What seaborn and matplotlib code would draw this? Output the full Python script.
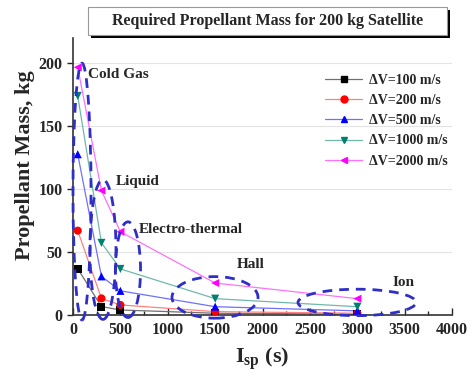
import numpy as np
import pandas as pd
import seaborn as sns
import matplotlib.pyplot as plt
from matplotlib.patches import Ellipse, Rectangle
from matplotlib.lines import Line2D

# data
isp = [50, 300, 500, 1500, 3000]
mass_dv100 = [36.8, 6.7, 4.0, 1.4, 0.7]
mass_dv200 = [67.0, 13.2, 8.0, 2.7, 1.4]
mass_dv500 = [127.7, 30.7, 19.2, 6.6, 3.3]
mass_dv1000 = [174.0, 57.3, 36.6, 13.0, 6.6]
mass_dv2000 = [196.7, 98.8, 66.1, 25.4, 13.0]

series_labels = ["\u0394V=100 m/s", "\u0394V=200 m/s", "\u0394V=500 m/s",
                 "\u0394V=1000 m/s", "\u0394V=2000 m/s"]
series_values = [mass_dv100, mass_dv200, mass_dv500, mass_dv1000, mass_dv2000]

# thruster groups: label, label position, ellipse (center x, center y, width, height)
groups = ["Cold Gas", "Liquid", "Electro-thermal", "Hall", "Ion"]
group_label_xy = [(158, 191), (454, 106), (696, 68), (1730, 40), (3375, 26)]
group_ellipse = [(95, 98, 190, 204), (316, 52, 275, 111), (580, 36, 265, 76),
                 (1498, 14, 907, 33), (2996, 10, 1245, 21)]

rows = []
for lab, vals in zip(series_labels, series_values):
    for x, y in zip(isp, vals):
        rows.append({"Isp": x, "mass": y, "series": lab})
df = pd.DataFrame(rows)

sns.set_style("white")
plt.rcParams["font.family"] = ["Liberation Serif", "DejaVu Serif"]
plt.rcParams["font.weight"] = "bold"
plt.rcParams["mathtext.fontset"] = "custom"
plt.rcParams["mathtext.rm"] = "Liberation Serif:bold"
plt.rcParams["mathtext.bf"] = "Liberation Serif:bold"

marker_colors = ["#000000", "#ff0000", "#0000ff", "#008070", "#ff00ff"]
line_colors = ["#707070", "#ff8080", "#7070ff", "#70b8ac", "#ff70ff"]
markers = ["s", "o", "^", "v", "<"]

fig = plt.figure(figsize=(4.74, 3.8), dpi=100)
ax = fig.add_axes([0.154, 0.171, 0.800, 0.729])

for y in [50, 100, 150, 200]:
    ax.axhline(y, color="#e3e3e3", lw=0.8, zorder=0)

sns.lineplot(data=df, x="Isp", y="mass", hue="series", hue_order=series_labels,
             palette=line_colors, lw=0.9, legend=False, ax=ax, zorder=2)
sns.scatterplot(data=df, x="Isp", y="mass", hue="series", hue_order=series_labels,
                palette=marker_colors, style="series", style_order=series_labels,
                markers=markers, s=34, linewidth=0, legend=False, ax=ax, zorder=3)

for (cx, cy, w, h) in group_ellipse:
    ax.add_patch(Ellipse((cx, cy), w, h, fill=False, ec="#2e2ec8", lw=2.0,
                         ls=(0, (3.5, 2.5)), zorder=4, clip_on=False))

for name, (tx, ty) in zip(groups, group_label_xy):
    ax.text(tx, ty, name, fontsize=11, fontweight="bold", ha="left", va="center")

ax.set_xlim(0, 4000)
ax.set_ylim(0, 220)
ax.set_xticks(np.arange(0, 4001, 500))
ax.set_xticks(np.arange(250, 4000, 500), minor=True)
ax.set_yticks([0, 50, 100, 150, 200])
ax.tick_params(axis="x", which="both", direction="in", length=5, width=1, pad=5,
               labelsize=11.5, bottom=True)
ax.tick_params(axis="x", which="minor", length=3)
ax.tick_params(axis="y", direction="out", length=4, width=1, labelsize=11.5, left=True)
for lab in ax.get_xticklabels() + ax.get_yticklabels():
    lab.set_fontweight("bold")

sns.despine(ax=ax)
for s in ["left", "bottom"]:
    ax.spines[s].set_color("#333333")
    ax.spines[s].set_linewidth(1.2)

ax.set_xlabel(r"I$_{\mathbf{sp}}$ (s)", fontsize=16, fontweight="bold", labelpad=6)
ax.set_ylabel("Propellant Mass, kg", fontsize=16, fontweight="bold")
ax.yaxis.set_label_coords(-0.1, 0.54)

handles = [Line2D([0], [0], color=lc, lw=0.9, marker=m, markerfacecolor=mc,
                  markeredgecolor=mc, markersize=5)
           for lc, mc, m in zip(line_colors, marker_colors, markers)]
ax.legend(handles, series_labels, loc="upper left", bbox_to_anchor=(0.672, 0.824),
          bbox_transform=fig.transFigure, frameon=False, borderpad=0,
          handlelength=2.6, handletextpad=0.5, labelspacing=0.52,
          prop={"family": "Liberation Serif", "weight": "bold", "size": 10})

# title box with drop shadow
fig.patches.append(Rectangle((0.192, 0.900), 0.757, 0.074, transform=fig.transFigure,
                             facecolor="black", edgecolor="none", zorder=1))
fig.patches.append(Rectangle((0.186, 0.908), 0.757, 0.074, transform=fig.transFigure,
                             facecolor="white", edgecolor="#999999", lw=0.8, zorder=2))
fig.text(0.564, 0.945, "Required Propellant Mass for 200 kg Satellite",
         fontsize=11.5, fontweight="bold", ha="center", va="center", zorder=3)

fig.savefig("out.png", dpi=100)
